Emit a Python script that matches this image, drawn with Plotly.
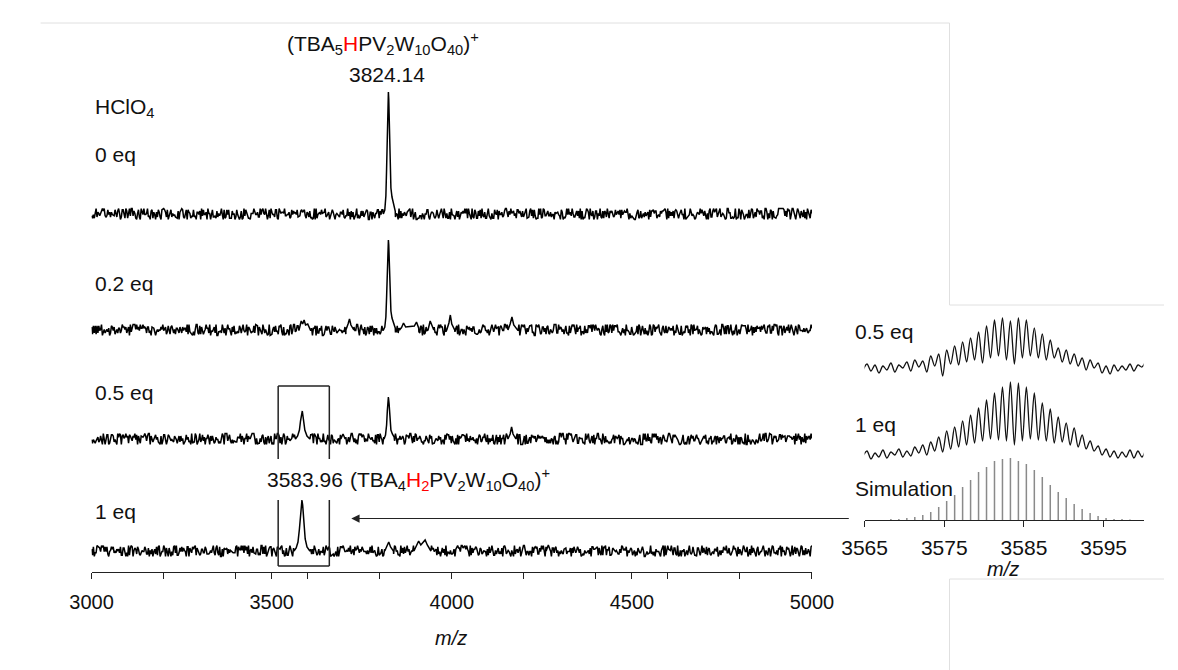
import numpy as np
import plotly.graph_objects as go

W, H = 1178, 670
FONT = "Liberation Sans, Arial, sans-serif"

# ---------------- data ----------------
main_range = [3000, 5000]
main_tickvals = [3000, 3500, 4000, 4500, 5000]
main_minor_step = 200

spectrum_labels = ["0 eq", "0.2 eq", "0.5 eq", "1 eq"]

# baseline noise read as digits (0-9) on an even m/z grid, one string per spectrum
noise_0eq = ("31415926535897932384626433832795028841971693993751"
             "05820974944592307816406286208998628034825342117067"
             "98214808651328230664709384460955058223172535940812"
             "84811174502841027019385211055596446229489549303819"
             "64428810975665933446128475648233786783165271201909"
             "14564856692346034861045432664821339360726024914127"
             "37245870066063155881748815209209628292540917153643"
             "67892590360011330530548820466521384146951941511609"
             "43305727036575959195309218611738193261179310511854"
             "80744623799627495673518857527248912279381830119491"
             "29833673362440656643086021394946395224737190702179"
             "86094370277053921717629317675238467481846766940513"
             "20005681271452635608277857713427577896091736371787"
             "21468440901224953430146549585371050792279689258923"
             "54201995611212902196086403441815981362977477130996"
             "05187072113499999983729780499510597317328160963185")
noise_02eq = ("71828182845904523536028747135266249775724709369995"
              "95749669676277240766303535475945713821785251664274"
              "27466391932003059921817413596629043572900334295260"
              "59563073813232862794349076323382988075319525101901"
              "15738341879307021540891499348841675092447614606680"
              "82264800168477411853742345442437107539077744992069"
              "55170276183860626133138458300075204493382656029760"
              "67371132007093287091274437470472306969772093101416"
              "92836819025515108657463772111252389784425056953696"
              "77078544996996794686445490598793163688923009879312"
              "77361782154249992295763514822082698951936680331825"
              "28869398496465105820939239829488793320362509443117"
              "30123819706841614039701983767932068328237646480429"
              "53118023287825098194558153017567173613320698112509"
              "96181881593041690351598888519345807273866738589422"
              "87922849989208680582574927961048419844436346324496")
noise_05eq = ("41421356237309504880168872420969807856967187537694"
              "80731766797379907324784621070388503875343276415727"
              "35013846230912297024924836055850737212644121497099"
              "93583141322266592750559275579995050115278206057147"
              "01095599716059702745345968620147285174186408891986"
              "09552329230484308714321450839762603627995251407989"
              "68725339654633180882964062061525835239505474575028"
              "77599617298355752203375318570113543746034084988471"
              "73205080756887729352744634150587236694280525381038"
              "06280558069794519330169088000370811461867572485756"
              "75626141415406703029969945094998952478811655512094"
              "69314718055994530941723212145817656807550013436025"
              "52541206800094933936219696947156058633269964186875"
              "42001481020570685733685520235758130557032670751635"
              "57721566490153286060651209008240243104215933593992"
              "35988057672348848677267776646709369470632917467495")
noise_1eq = ("61803398874989484820458683436563811772030917980576"
             "28621354486227052604628189024497072072041893911374"
             "84754088075386891752126633862223536931793180060766"
             "72635443338908659593958290563832266131992829026788"
             "06752087668925017116962070322210432162695486262963"
             "13614438149758701220340805887954454749246185695364"
             "86444252483934520181236016128563411298451209372835"
             "94613549862377139418567082396745618240573619043252"
             "23606797749978969640917366873127623544061835961152"
             "57242708972454105209256378048994144144083787822749"
             "69508176150773783504253267724447073863586360121533"
             "45270886677817319187916581127664532263985658053576"
             "13504175337850034233924140644420589091596559417721"
             "90150546035149323841107741493742816721342664802515"
             "38659337213596740826315974480261937520681344795052"
             "17604983325176908451286740391582763049815172364089")

# peak profiles (m/z points, height above baseline)
peaks_0eq_mz = [[3810, 3814, 3817, 3819, 3821, 3823, 3824, 3825, 3827, 3829, 3831, 3834, 3838, 3843]]
peaks_0eq_h = [[0, 4, 18, 45, 90, 118, 122, 115, 80, 45, 26, 17, 9, 3]]

peaks_02eq_mz = [[3576, 3582, 3586, 3590, 3594, 3600, 3606],
                 [3706, 3712, 3716, 3720, 3728],
                 [3810, 3814, 3817, 3819, 3821, 3823, 3824, 3825, 3827, 3829, 3831, 3834, 3838, 3843],
                 [3860, 3866, 3872, 3896, 3902, 3908],
                 [3934, 3940, 3944, 3950],
                 [3986, 3992, 3996, 4000, 4008],
                 [4156, 4162, 4167, 4172, 4182]]
peaks_02eq_h = [[0, 9, 6, 10, 5, 6, 0],
                [0, 6, 11, 5, 0],
                [0, 3, 13, 33, 66, 87, 90, 85, 59, 33, 19, 12, 7, 2],
                [2, 7, 3, 4, 8, 2],
                [0, 9, 6, 0],
                [0, 7, 15, 6, 0],
                [0, 6, 13, 5, 0]]

peaks_05eq_mz = [[3566, 3572, 3577, 3580, 3583, 3585, 3588, 3592, 3598, 3606],
                 [3692, 3698, 3704],
                 [3812, 3816, 3819, 3821, 3823, 3824, 3826, 3828, 3831, 3835, 3840],
                 [4156, 4162, 4166, 4170, 4178]]
peaks_05eq_h = [[0, 3, 9, 18, 27, 28, 20, 9, 3, 0],
                [0, 5, 0],
                [0, 4, 14, 28, 40, 42, 35, 18, 9, 5, 2],
                [0, 5, 12, 5, 0]]

peaks_1eq_mz = [[3562, 3568, 3573, 3577, 3580, 3582, 3584, 3586, 3589, 3593, 3598, 3606],
                [3814, 3820, 3825, 3830, 3838],
                [3895, 3902, 3908, 3914, 3920, 3926, 3932, 3942],
                [4262, 4268, 4274]]
peaks_1eq_h = [[0, 3, 9, 22, 38, 48, 51, 46, 28, 12, 4, 0],
               [0, 5, 9, 4, 0],
               [0, 5, 10, 6, 9, 11, 6, 0],
               [0, 6, 0]]

# boxed region (m/z)
box_mz = [3518, 3660]

# inset (zoom of 3584 cluster)
inset_range = [3565, 3600]
inset_tickvals = [3565, 3575, 3585, 3595]
inset_labels = ["0.5 eq", "1 eq", "Simulation"]
inset_grid_span = [3564.8, 3600.3]   # half-Da sampling
inset_05eq_h = [-2, 4, -3, 3, -5, 2, -2, 5, -4, 3, 0, 6, -3, 8, 1, 7, -4, 12, 2, 14,
                -8, 18, 4, 22, 3, 26, 6, 30, 8, 36, 5, 42, 10, 48, 12, 50, 8, 47, 4, 50,
                10, 48, 12, 40, 10, 34, 8, 28, 10, 20, 6, 18, 4, 14, 2, 10, -2, 8, 0, 5,
                -5, 2, -6, 3, -3, 2, -2, 4, -3, 3, 1, 8]
inset_1eq_h = [-1, 4, -4, 2, -2, 5, -3, 3, 0, 6, -2, 4, -1, 8, 2, 10, 0, 13, 4, 18,
               3, 24, 6, 28, 8, 34, 10, 40, 12, 47, 14, 55, 16, 62, 15, 68, 14, 73, 10, 72,
               14, 68, 16, 62, 15, 52, 14, 46, 12, 38, 13, 32, 10, 27, 8, 20, 6, 14, 4, 9,
               0, 6, -2, 4, -3, 3, -2, 5, -3, 4, -2, 6]
sim_mz = [3568.3, 3569.3, 3570.3, 3571.3, 3572.3, 3573.3, 3574.3, 3575.3, 3576.3, 3577.3,
          3578.3, 3579.3, 3580.3, 3581.3, 3582.3, 3583.3, 3584.3, 3585.3, 3586.3, 3587.3,
          3588.3, 3589.3, 3590.3, 3591.3, 3592.3, 3593.3, 3594.3, 3595.3, 3596.3, 3597.3, 3598.3]
sim_h = [1, 1, 2, 3, 5, 8, 13, 19, 25, 33, 40, 48, 53, 59, 61, 62, 59, 56, 50, 43,
         35, 28, 22, 16, 11, 7, 4, 2, 1, 1, 0.5]

# ---------------- layout helpers (pixels -> paper) ----------------
def px(x):
    return x / W


def py(y):
    return 1 - y / H


NOISE_SCALE = 1.2
# vertical offsets of the stacked spectra (in main y units = pixels above axis line)
main_offsets = [358, 242, 133, 21]
inset_offsets = [152, 65]


def build(noise, pk_mz, pk_h, offset):
    grid = np.linspace(main_range[0], main_range[1], len(noise))
    vals = (np.array([int(c) for c in noise]) - 4.5) * NOISE_SCALE
    keep = np.ones(len(grid), bool)
    for m in pk_mz:
        keep &= ~((grid >= m[0]) & (grid <= m[-1]))
    xs = list(grid[keep])
    ys = list(vals[keep])
    for m, h in zip(pk_mz, pk_h):
        xs += list(m)
        ys += list(h)
    xs = np.array(xs, float)
    ys = np.array(ys, float)
    order = np.argsort(xs, kind="stable")
    return xs[order], ys[order] + offset


fig = go.Figure()

spectra = [(noise_0eq, peaks_0eq_mz, peaks_0eq_h),
           (noise_02eq, peaks_02eq_mz, peaks_02eq_h),
           (noise_05eq, peaks_05eq_mz, peaks_05eq_h),
           (noise_1eq, peaks_1eq_mz, peaks_1eq_h)]
for (nz, pm, ph), off in zip(spectra, main_offsets):
    x, y = build(nz, pm, ph, off)
    fig.add_trace(go.Scatter(x=x, y=y, mode="lines", xaxis="x", yaxis="y",
                             line=dict(color="black", width=1.5), hoverinfo="skip"))

# inset traces
for vals, off in zip([inset_05eq_h, inset_1eq_h], inset_offsets):
    gx = np.linspace(inset_grid_span[0], inset_grid_span[1], len(vals))
    fig.add_trace(go.Scatter(x=gx, y=np.array(vals, float) + off, mode="lines",
                             xaxis="x2", yaxis="y2",
                             line=dict(color="#111", width=1.3, shape="spline", smoothing=0.9),
                             hoverinfo="skip"))

sx, sy = [], []
for m, h in zip(sim_mz, sim_h):
    sx += [m, m, None]
    sy += [0, h, None]
fig.add_trace(go.Scatter(x=sx, y=sy, mode="lines", xaxis="x2", yaxis="y2",
                         line=dict(color="#8a8a8a", width=1.5), hoverinfo="skip"))

axis_common = dict(showline=True, linecolor="#222", linewidth=1.3, ticks="outside",
                   ticklen=6, tickwidth=1.2, tickcolor="#222", showgrid=False,
                   zeroline=False, fixedrange=True)

fig.update_layout(
    width=W, height=H, margin=dict(l=0, r=0, t=0, b=0),
    paper_bgcolor="white", plot_bgcolor="white", showlegend=False,
    font=dict(family=FONT, color="#111"),
    xaxis=dict(domain=[px(63), px(812)], range=main_range, anchor="y",
               tickmode="array", tickvals=main_tickvals,
               ticktext=[str(v) for v in main_tickvals],
               minor=dict(tickmode="linear", tick0=main_range[0], dtick=main_minor_step,
                          ticks="outside", ticklen=6, tickwidth=1.2, tickcolor="#222",
                          showgrid=False),
               tickfont=dict(size=20, family=FONT, color="#111"),
               ticklabelstandoff=6, **axis_common),
    yaxis=dict(domain=[py(564), py(20)], range=[0, 544], visible=False, fixedrange=True),
    xaxis2=dict(domain=[px(866.7), px(1156.7)], range=inset_range, anchor="y2",
                tickvals=inset_tickvals, ticktext=[str(v) for v in inset_tickvals],
                tickfont=dict(size=21, family=FONT, color="#111"),
                ticklabelstandoff=3, **axis_common),
    yaxis2=dict(domain=[py(512), py(290)], range=[0, 222], visible=False, fixedrange=True),
)

ann = []


def text(t, x, y, size=21, xanchor="left", yanchor="middle"):
    ann.append(dict(text=t, x=px(x), y=py(y), xref="paper", yref="paper",
                    showarrow=False, xanchor=xanchor, yanchor=yanchor,
                    font=dict(size=size, family=FONT, color="#111")))


text("HClO<sub>4</sub>", 64, 100)
for lab, yy in zip(spectrum_labels, [146, 275, 384, 503]):
    text(lab, 64, yy)

text('(TBA<sub>5</sub><span style="color:#ff0000">H</span>PV<sub>2</sub>W<sub>10</sub>O<sub>40</sub>)<sup>+</sup>',
     366, 35, xanchor="center")
text("3824.14", 370, 66, xanchor="center")
text("3583.96", 243, 472)
text('(TBA<sub>4</sub><span style="color:#ff0000">H<sub>2</sub></span>PV<sub>2</sub>W<sub>10</sub>O<sub>40</sub>)<sup>+</sup>',
     330, 472)
text("<i>m/z</i>", 437, 630, size=20, xanchor="center")

for lab, yy in zip(inset_labels, [323, 416, 480]):
    text(lab, 855, yy)
text("<i>m/z</i>", 1011, 561, size=20, xanchor="center")

# arrow pointing from inset to the boxed peak
ann.append(dict(text="", x=3721, y=py(510.5), xref="x", yref="paper",
                ax=499, ay=0, axref="pixel", ayref="pixel", showarrow=True,
                arrowhead=2, arrowsize=1.5, arrowwidth=1.1, arrowcolor="#222",
                standoff=0, startstandoff=0))
fig.update_layout(annotations=ann)

shapes = []
lc = dict(color="#222", width=1.5)
b0, b1 = box_mz
for (xa, ya, xb, yb) in [(b0, 378, b1, 378), (b0, 378, b0, 451), (b1, 378, b1, 451),
                         (b0, 492, b0, 558), (b1, 492, b1, 558), (b0, 558, b1, 558)]:
    shapes.append(dict(type="line", xref="x", yref="paper", x0=xa, x1=xb,
                       y0=py(ya), y1=py(yb), line=lc))

gc = dict(color="#e0e0e0", width=1)
for (xa, ya, xb, yb) in [(10, 15, 955, 15), (955, 15, 955, 297), (955, 297, 1178, 297),
                         (955, 571, 1178, 571), (955, 571, 955, 670)]:
    shapes.append(dict(type="line", xref="paper", yref="paper", x0=px(xa), x1=px(xb),
                       y0=py(ya), y1=py(yb), line=gc, layer="below"))
fig.update_layout(shapes=shapes)

fig.write_html("out.html")
